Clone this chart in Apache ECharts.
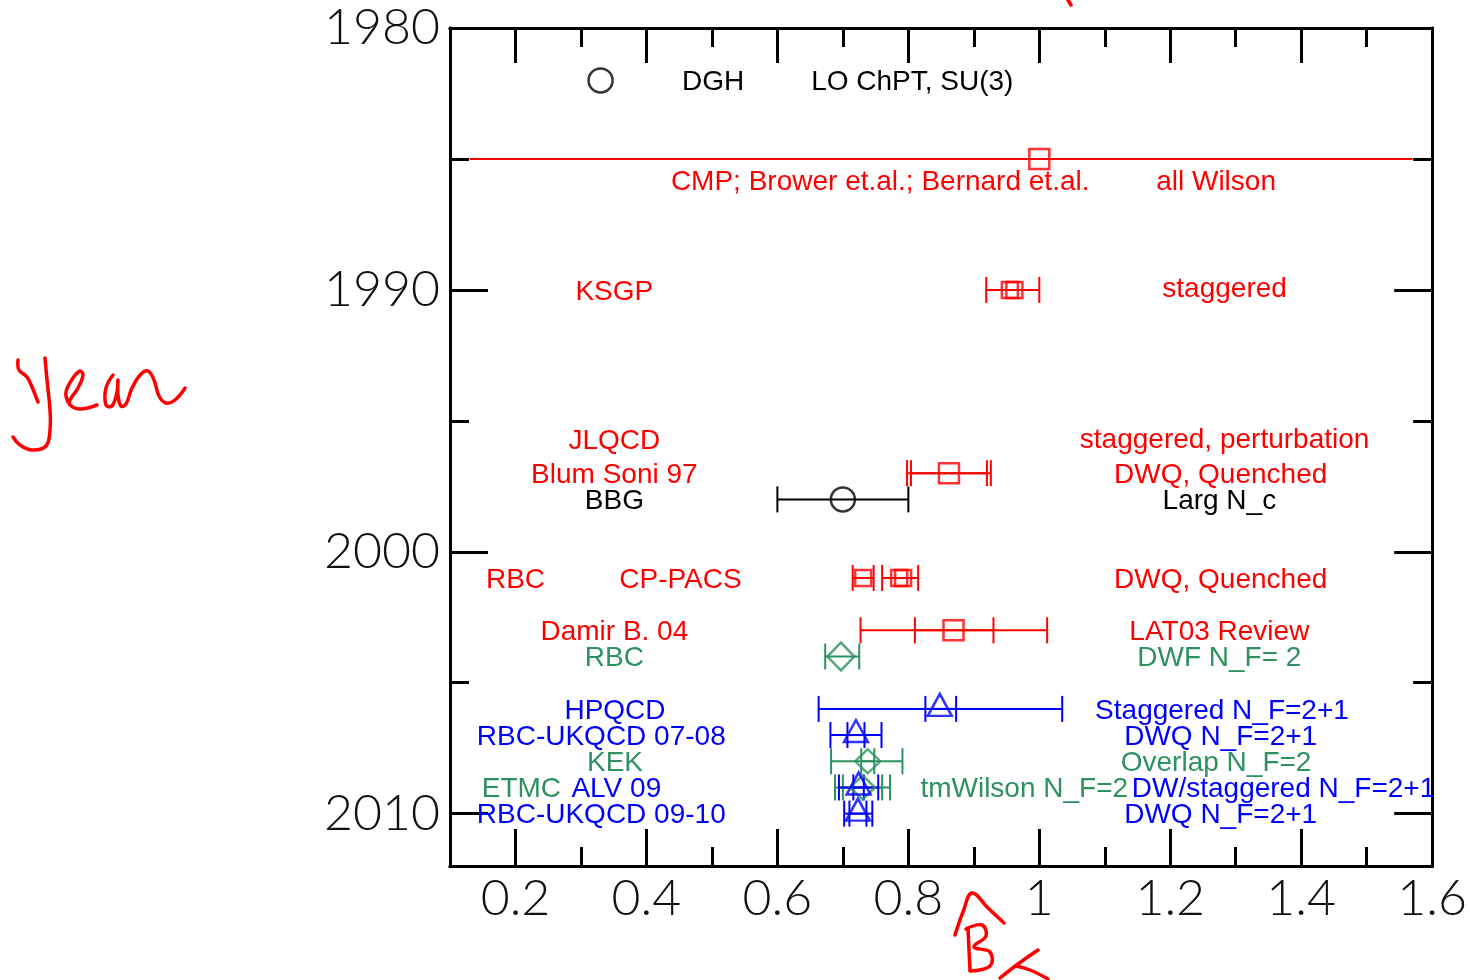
<!DOCTYPE html>
<html><head><meta charset="utf-8">
<script src="https://cdn.jsdelivr.net/npm/echarts@6/dist/echarts.min.js"></script>
<style>html,body{margin:0;padding:0;background:#fff}#c{width:1470px;height:980px}</style>
</head><body><div id="c"></div>
<script>
// ---- axis ticks ----
const xMajorTicks = [0.2, 0.4, 0.6, 0.8, 1.0, 1.2, 1.4, 1.6];
const xMinorTicks = [0.3, 0.5, 0.7, 0.9, 1.1, 1.3, 1.5];
const yMajorTicks = [1980, 1990, 2000, 2010];
const yMinorTicks = [1985, 1995, 2005];

// ---- central values: [B_K, year] ----
const blackCircles = [[0.33, 1982], [0.70, 1998]];
const redSquaresLarge = [[1.0, 1985], [0.862, 1997], [0.869, 2003]];
const redSquaresSmall = [[0.955, 1990], [0.962, 1990], [0.731, 2001], [0.786, 2001], [0.792, 2001]];
const greenDiamondsLarge = [[0.697, 2004]];
const greenDiamonds = [[0.738, 2008], [0.73, 2009]];
const blueTriangles = [[0.848, 2006], [0.72, 2007], [0.724, 2009], [0.723, 2010]];

// ---- error bars: [year, low, high] ----
const blackErr = [[1998, 0.60, 0.80]];
const redErrNoCap = [[1985, 0.13, 1.57]];
const redErr = [[1990, 0.919, 1.0], [1997, 0.798, 0.920], [1997, 0.804, 0.926],
                [2001, 0.715, 0.747], [2001, 0.760, 0.815], [2003, 0.81, 0.93], [2003, 0.727, 1.012]];
const greenErr = [[2004, 0.673, 0.725], [2008, 0.682, 0.791], [2008, 0.728, 0.748],
                  [2009, 0.688, 0.772], [2009, 0.70, 0.76]];
const blueErr = [[2006, 0.826, 0.873], [2006, 0.663, 1.035], [2007, 0.707, 0.733], [2007, 0.681, 0.759],
                 [2009, 0.716, 0.732], [2009, 0.694, 0.754], [2010, 0.71, 0.736], [2010, 0.702, 0.745]];

// ---- annotations: [B_K, year, text] ----
const blackLabels = [[0.502, 1982, 'DGH'], [0.806, 1982, 'LO ChPT, SU(3)'],
                     [0.351, 1998, 'BBG'], [1.275, 1998, 'Larg N_c']];
const redLabels = [[0.757, 1985.8, 'CMP; Brower et.al.; Bernard et.al.'], [1.27, 1985.8, 'all Wilson'],
                   [0.351, 1990, 'KSGP'], [1.283, 1989.9, 'staggered'],
                   [0.351, 1995.7, 'JLQCD'], [1.283, 1995.65, 'staggered, perturbation'],
                   [0.351, 1997, 'Blum Soni 97'], [1.277, 1997, 'DWQ, Quenched'],
                   [0.2, 2001, 'RBC'], [0.452, 2001, 'CP-PACS'], [1.277, 2001, 'DWQ, Quenched'],
                   [0.351, 2003, 'Damir B. 04'], [1.275, 2003, 'LAT03 Review']];
const greenLabels = [[0.351, 2004, 'RBC'], [1.275, 2004, 'DWF N_F= 2'],
                     [0.352, 2008, 'KEK'], [1.27, 2008, 'Overlap N_F=2'],
                     [0.209, 2009, 'ETMC'], [0.977, 2009, 'tmWilson N_F=2']];
const blueLabels = [[0.352, 2006, 'HPQCD'], [1.279, 2006, 'Staggered N_F=2+1'],
                    [0.331, 2007, 'RBC-UKQCD 07-08'], [1.277, 2007, 'DWQ N_F=2+1'],
                    [0.354, 2009, 'ALV 09'], [1.373, 2009, 'DW/staggered N_F=2+1'],
                    [0.331, 2010, 'RBC-UKQCD 09-10'], [1.277, 2010, 'DWQ N_F=2+1']];

const RED = '#ff0000', BLUE = '#0000ff', GREEN = '#2e9160', BLACK = '#000000';
const LABEL_FONT = '28px "Liberation Sans", Arial, sans-serif';
const TICK_FONT = 'Lato';

const chart = echarts.init(document.getElementById('c'), null, {renderer: 'canvas'});

function errSeries(data, color, cap) {
  return {
    type: 'custom', xAxisIndex: 0, yAxisIndex: 0, z: 3, silent: true,
    encode: {x: [1, 2], y: 0},
    data: data,
    renderItem: function (params, api) {
      const yv = api.value(0), lo = api.value(1), hi = api.value(2);
      const p1 = api.coord([lo, yv]), p2 = api.coord([hi, yv]);
      const st = {stroke: color, lineWidth: 2, fill: null};
      const ch = [{type: 'line', shape: {x1: p1[0], y1: p1[1], x2: p2[0], y2: p2[1]}, style: st}];
      if (cap) {
        ch.push({type: 'line', shape: {x1: p1[0], y1: p1[1] - 13, x2: p1[0], y2: p1[1] + 13}, style: st});
        ch.push({type: 'line', shape: {x1: p2[0], y1: p2[1] - 13, x2: p2[0], y2: p2[1] + 13}, style: st});
      }
      return {type: 'group', children: ch};
    }
  };
}

function labelSeries(data, color) {
  return {
    type: 'custom', xAxisIndex: 0, yAxisIndex: 0, z: 4, silent: true,
    encode: {x: 0, y: 1},
    data: data.map(d => [d[0], d[1]]),
    renderItem: function (params, api) {
      const p = api.coord([api.value(0), api.value(1)]);
      return {type: 'text', x: p[0], y: p[1] + 2,
        style: {text: data[params.dataIndex][2], fill: color, font: LABEL_FONT,
                align: 'center', verticalAlign: 'middle'}};
    }
  };
}

function markerSeries(data, symbol, size, color, offset) {
  return {
    type: 'scatter', xAxisIndex: 0, yAxisIndex: 0, z: 5, silent: true,
    symbol: symbol, symbolSize: size, symbolOffset: offset || [0, 0],
    itemStyle: {color: 'rgba(0,0,0,0)', borderColor: color, borderWidth: 2.5},
    data: data
  };
}

const axisBaseX = {type: 'value', min: 0.1, max: 1.6, splitLine: {show: false},
  axisLine: {show: true, onZero: false, lineStyle: {color: '#000', width: 3}}};
const axisBaseY = {type: 'value', min: 1980, max: 2012, inverse: true, splitLine: {show: false},
  axisLine: {show: true, onZero: false, lineStyle: {color: '#000', width: 3}}};

function tickCfg(values, len) {
  return {show: true, inside: true, length: len, customValues: values, lineStyle: {color: '#000', width: 3}};
}

const xLabelCfg = {show: true, customValues: xMajorTicks, fontSize: 50, fontFamily: TICK_FONT, fontWeight: 300,
  color: '#111', margin: 8, formatter: v => String(Math.round(v * 10) / 10)};
const yLabelCfg = {show: true, customValues: yMajorTicks, fontSize: 50, fontFamily: TICK_FONT, fontWeight: 300,
  color: '#111', margin: 10, formatter: v => String(v)};

function stroke(points) {
  return {type: 'polyline', silent: true, z: 10, shape: {points: points, smooth: 0.4},
    style: {stroke: RED, lineWidth: 3.5, fill: null, lineCap: 'round', lineJoin: 'round'}};
}

const option = {
  backgroundColor: '#ffffff',
  animation: false,
  grid: {left: 450, top: 28, right: 37, bottom: 114, containLabel: false},
  xAxis: [
    Object.assign({}, axisBaseX, {position: 'bottom', axisTick: tickCfg(xMajorTicks, 37), axisLabel: xLabelCfg}),
    Object.assign({}, axisBaseX, {position: 'bottom', axisTick: tickCfg(xMinorTicks, 19), axisLabel: {show: false}}),
    Object.assign({}, axisBaseX, {position: 'top', axisTick: tickCfg(xMajorTicks, 35), axisLabel: {show: false}}),
    Object.assign({}, axisBaseX, {position: 'top', axisTick: tickCfg(xMinorTicks, 19), axisLabel: {show: false}})
  ],
  yAxis: [
    Object.assign({}, axisBaseY, {position: 'left', axisTick: tickCfg(yMajorTicks, 38), axisLabel: yLabelCfg}),
    Object.assign({}, axisBaseY, {position: 'left', axisTick: tickCfg(yMinorTicks, 19), axisLabel: {show: false}}),
    Object.assign({}, axisBaseY, {position: 'right', axisTick: tickCfg(yMajorTicks, 38), axisLabel: {show: false}}),
    Object.assign({}, axisBaseY, {position: 'right', axisTick: tickCfg(yMinorTicks, 19), axisLabel: {show: false}})
  ],
  series: [
    errSeries(redErrNoCap, RED, false),
    errSeries(redErr, RED, true),
    errSeries(blackErr, BLACK, true),
    errSeries(greenErr, GREEN, true),
    errSeries(blueErr, BLUE, true),
    markerSeries(blackCircles, 'circle', 24, BLACK),
    markerSeries(redSquaresLarge, 'rect', 20, RED),
    markerSeries(redSquaresSmall, 'rect', 16, RED),
    markerSeries(greenDiamondsLarge, 'diamond', [27, 28], GREEN),
    markerSeries(greenDiamonds, 'diamond', [25, 24], GREEN),
    markerSeries(blueTriangles, 'triangle', [24, 22], BLUE, [0, -4]),
    labelSeries(blackLabels, BLACK),
    labelSeries(redLabels, RED),
    labelSeries(greenLabels, GREEN),
    labelSeries(blueLabels, BLUE)
  ],
  graphic: [
    // handwritten "year"
    stroke([[18,360],[19,370],[27,377],[32,387],[38,402]]),
    stroke([[45,358],[47,380],[50,410],[50,430],[46,446],[32,450],[20,445],[13,437]]),
    stroke([[68,402],[66,392],[73,378],[80,371],[83,375],[78,388],[70,400],[70,405],[80,409],[97,405]]),
    stroke([[113,375],[106,388],[106,405],[112,406],[117,392],[118,380],[118,395],[121,406],[126,404],
            [132,388],[141,374],[148,371],[154,380],[159,396],[166,403],[175,400],[185,388]]),
    // handwritten "B_K hat"
    stroke([[955,935],[963,912],[972,893],[988,908],[1004,923]]),
    stroke([[968,928],[969,950],[970,970]]),
    stroke([[966,929],[982,925],[986,936],[974,947],[990,952],[990,966],[970,971]]),
    stroke([[1000,978],[1018,964],[1038,950]]),
    stroke([[1016,966],[1030,970],[1048,979]]),
    stroke([[1068,0],[1071,5]])
  ]
};
chart.setOption(option);
</script>
</body></html>
